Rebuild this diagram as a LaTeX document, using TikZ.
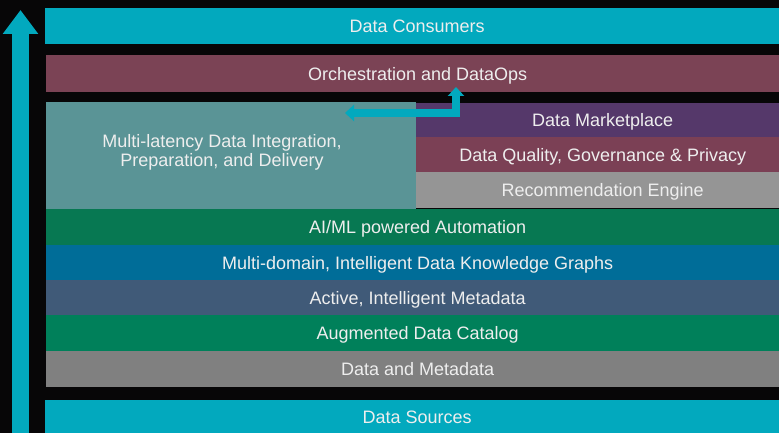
\documentclass[tikz,border=0pt]{standalone}
\usepackage{fontspec}
\setmainfont{Liberation Sans}
\usetikzlibrary{arrows.meta}

\definecolor{bgblack}{HTML}{070607}
\definecolor{consumer}{HTML}{02A9BE}
\definecolor{orch}{HTML}{7B4355}
\definecolor{integ}{HTML}{5A9496}
\definecolor{market}{HTML}{55386A}
\definecolor{quality}{HTML}{7B4055}
\definecolor{recommend}{HTML}{959595}
\definecolor{aiml}{HTML}{077852}
\definecolor{graphs}{HTML}{006D98}
\definecolor{active}{HTML}{405A78}
\definecolor{catalog}{HTML}{00805A}
\definecolor{metadata}{HTML}{808080}
\definecolor{textgrey}{HTML}{EEEEEE}

\begin{document}
\begin{tikzpicture}[x=1pt,y=-1pt,
    layer/.style={rectangle,inner sep=0pt,anchor=north west,text=textgrey,
        font=\fontsize{18}{19.5}\selectfont,text height=12.9pt,text depth=0pt,
        minimum width=743pt},
    sublayer/.style={layer,minimum width=373pt},
    flow/.style={draw=consumer,line width=8pt,
        {Triangle[length=9pt,width=16pt]}-{Triangle[length=9pt,width=16pt]}}]
    \fill[bgblack] (0,0) rectangle (779,433);
    \useasboundingbox (0,0) rectangle (779,433);

    % upward arrow on the left
    \draw[consumer,line width=17pt,-{Triangle[length=24pt,width=34pt]}] (20.5,433) -- (20.5,10);

    % top
    \node[layer,fill=consumer,minimum width=744pt,minimum height=36pt] (consumers) at (45,8) {Data Consumers};
    \node[layer,fill=orch,minimum height=37pt] (orchestration) at (46,55) {Orchestration and DataOps};

    % integration block and the three layers beside it
    \node[layer,fill=integ,minimum width=370pt,minimum height=107pt] (integration) at (46,102) {};
    \node[text=textgrey,font=\fontsize{18}{19.5}\selectfont,align=center] (integtext) at (222,152.5)
        {Multi-latency Data Integration,\\Preparation, and Delivery};
    \node[sublayer,fill=market,minimum height=34pt] (marketplace) at (416,103) {Data Marketplace};
    \node[sublayer,fill=quality,minimum height=36pt] (quality) at (416,137) {Data Quality, Governance \& Privacy};
    \node[sublayer,fill=recommend,minimum height=36pt] (recommendation) at (416,172) {Recommendation Engine};

    % lower stack
    \node[layer,fill=aiml,minimum height=36pt] (automation) at (46,209) {AI/ML powered Automation};
    \node[layer,fill=graphs,minimum height=35pt] (knowledge) at (46,245) {Multi-domain, Intelligent Data Knowledge Graphs};
    \node[layer,fill=active,minimum height=35pt] (activemeta) at (46,280) {Active, Intelligent Metadata};
    \node[layer,fill=catalog,minimum height=36pt] (catalog) at (46,315) {Augmented Data Catalog};
    \node[layer,fill=metadata,minimum height=36pt] (datameta) at (46,351) {Data and Metadata};
    \node[layer,fill=consumer,minimum width=744pt,minimum height=33pt] (sources) at (45,400) {Data Sources};

    % link between integration and orchestration
    \coordinate (integin) at (345,113);
    \coordinate (orchin) at (456,87);
    \draw[flow] (integin) -| (orchin);
\end{tikzpicture}
\end{document}
